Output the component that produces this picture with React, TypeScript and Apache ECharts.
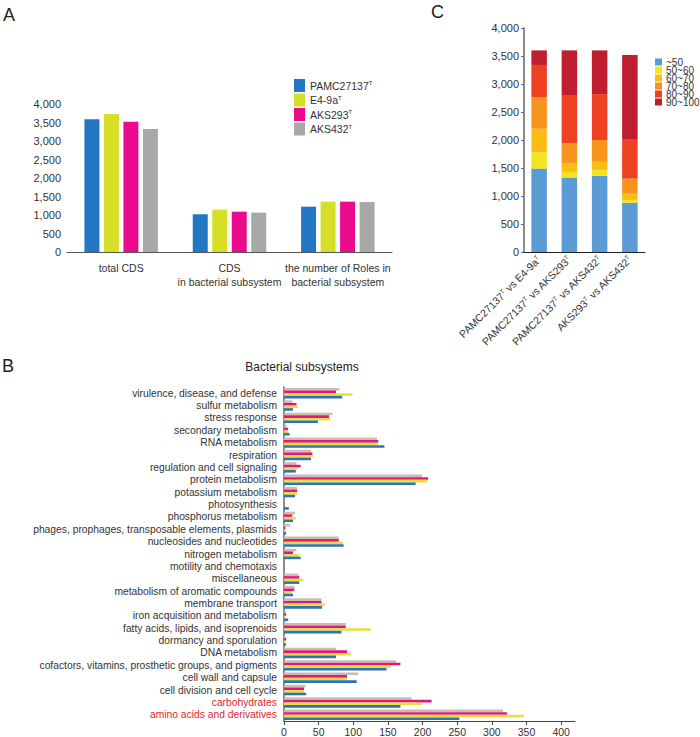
import React, { useEffect, useRef } from "react";
import * as echarts from "echarts";

// ---------- Panel A ----------
const strainsA = ["PAMC27137", "E4-9a", "AKS293", "AKS432"];
const groupsA = ["total CDS", "CDS\nin bacterial subsystem", "the number of Roles in\nbacterial subsystem"];
const pamcA = [3590, 1020, 1225];
const e4A = [3730, 1145, 1360];
const aks293A = [3520, 1090, 1360];
const aks432A = [3325, 1065, 1350];
const colorsA = ["#2377c2", "#d6df25", "#ea0a8c", "#a8a8a8"];

// ---------- Panel B ----------
const subsystemsB = [
  "virulence, disease, and defense",
  "sulfur metabolism",
  "stress response",
  "secondary metabolism",
  "RNA metabolism",
  "respiration",
  "regulation and cell signaling",
  "protein metabolism",
  "potassium metabolism",
  "photosynthesis",
  "phosphorus metabolism",
  "phages, prophages, transposable elements, plasmids",
  "nucleosides and nucleotides",
  "nitrogen metabolism",
  "motility and chemotaxis",
  "miscellaneous",
  "metabolism of aromatic compounds",
  "membrane transport",
  "iron acquisition and metabolism",
  "fatty acids, lipids, and isoprenoids",
  "dormancy and sporulation",
  "DNA metabolism",
  "cofactors, vitamins, prosthetic groups, and pigments",
  "cell wall and capsule",
  "cell division and cell cycle",
  "carbohydrates",
  "amino acids and derivatives",
];
const highlightedB = ["carbohydrates", "amino acids and derivatives"];
const pamcB = [84, 13, 49, 8, 145, 39, 17, 190, 16, 7, 13, 3, 86, 24, 0, 22, 13, 55, 6, 83, 3, 75, 148, 105, 32, 168, 253];
const e4B = [99, 20, 67, 6, 136, 42, 19, 207, 19, 0, 17, 2, 85, 22, 0, 28, 11, 59, 2, 125, 2, 97, 154, 91, 29, 199, 346];
const aks293B = [75, 18, 65, 6, 136, 41, 24, 208, 19, 0, 12, 2, 79, 13, 0, 22, 15, 54, 3, 89, 3, 91, 168, 91, 29, 213, 322];
const aks432B = [80, 12, 70, 4, 134, 39, 18, 199, 19, 0, 16, 9, 79, 18, 0, 21, 15, 54, 3, 89, 2, 75, 162, 107, 31, 184, 316];
const colorsB = ["#2e73b4", "#e4e13a", "#e5147f", "#cbbcb0"];
const ticksB = [0, 50, 100, 150, 200, 250, 300, 350, 400];

// ---------- Panel C ----------
const comparisonsC = ["PAMC27137 vs E4-9a", "PAMC27137 vs AKS293", "PAMC27137 vs AKS432", "AKS293 vs AKS432"];
const binsC = ["~50", "50~60", "60~70", "70~80", "80~90", "90~100"];
const below50C = [1490, 1330, 1360, 880];
const b50to60C = [290, 100, 100, 50];
const b60to70C = [420, 160, 150, 110];
const b70to80C = [560, 355, 390, 270];
const b80to90C = [580, 845, 820, 710];
const b90to100C = [260, 810, 780, 1500];
const colorsC = ["#5b9bd5", "#f3e51c", "#fbbd15", "#f7941d", "#ee4123", "#be1e2d"];

const FONT = "Liberation Sans, Arial, Helvetica, sans-serif";
const TXT = "#333";
const makeSupRich = (size: number) => ({
  n: { fontSize: size, fontFamily: FONT, color: TXT },
  s: { fontSize: 6, fontFamily: FONT, color: TXT, verticalAlign: "top" as const, padding: [0, 0, 4, 0] },
});
const fmtThousands = (v: number) => v.toLocaleString("en-US");

export default function App() {
  const ref = useRef<HTMLDivElement>(null);
  useEffect(() => {
    document.body.style.margin = "0";
    if (!ref.current) return;
    const chart = echarts.init(ref.current, null, { renderer: "svg" });

    const seriesA = [pamcA, e4A, aks293A, aks432A].map((d, i) => ({
      name: strainsA[i],
      type: "bar",
      xAxisIndex: 0,
      yAxisIndex: 0,
      data: d,
      barWidth: 15,
      barGap: "30%",
      itemStyle: { color: colorsA[i] },
    }));

    const dataB = [aks432B, aks293B, e4B, pamcB];
    const colB = [colorsB[3], colorsB[2], colorsB[1], colorsB[0]];
    const namesB = ["B-" + strainsA[3], "B-" + strainsA[2], "B-" + strainsA[1], "B-" + strainsA[0]];
    const seriesB = dataB.map((d, i) => ({
      name: namesB[i],
      type: "bar",
      xAxisIndex: 1,
      yAxisIndex: 1,
      data: d,
      barGap: "0%",
      barCategoryGap: "16%",
      itemStyle: { color: colB[i] },
    }));

    const seriesC = [below50C, b50to60C, b60to70C, b70to80C, b80to90C, b90to100C].map((d, i) => ({
      name: binsC[i],
      type: "bar",
      stack: "c",
      xAxisIndex: 2,
      yAxisIndex: 2,
      data: d,
      barWidth: 15.5,
      itemStyle: { color: colorsC[i] },
    }));

    chart.setOption({
      animation: false,
      textStyle: { fontFamily: FONT },
      grid: [
        { left: 67, top: 104, width: 325, height: 148 },
        { left: 284, top: 387, width: 291, height: 336 },
        { left: 524, top: 28, width: 121, height: 224 },
      ],
      legend: [
        {
          data: strainsA,
          orient: "vertical",
          left: 294,
          top: 79,
          padding: 0,
          itemWidth: 11,
          itemHeight: 13,
          itemGap: 1.5,
          icon: "rect",
          formatter: (name: string) => `{n|${name}}{s|T}`,
          textStyle: { fontSize: 10.5, color: TXT, fontFamily: FONT, rich: makeSupRich(10.5) },
        },
        {
          data: binsC,
          orient: "vertical",
          left: 655,
          top: 57,
          padding: 0,
          itemWidth: 7,
          itemHeight: 7,
          itemGap: -2,
          itemStyle: { borderWidth: 0 },
          icon: "rect",
          textStyle: { fontSize: 10, color: TXT, fontFamily: FONT, padding: [0, 0, 0, -1] },
        },
      ],
      xAxis: [
        {
          type: "category",
          gridIndex: 0,
          data: groupsA,
          axisLine: { lineStyle: { color: "#555", width: 1.2 } },
          axisTick: { show: false },
          axisLabel: { fontSize: 10.5, color: TXT, lineHeight: 14, margin: 9, interval: 0, fontFamily: FONT },
        },
        {
          type: "value",
          gridIndex: 1,
          min: 0,
          max: 420,
          interval: 50,
          axisLine: { show: true, lineStyle: { color: "#444", width: 1 } },
          axisTick: { show: true, length: 4, customValues: ticksB, lineStyle: { color: "#444" } },
          axisLabel: { fontSize: 10.5, color: TXT, margin: 5, customValues: ticksB, fontFamily: FONT },
          splitLine: { show: false },
        },
        {
          type: "category",
          gridIndex: 2,
          data: comparisonsC,
          axisLine: { lineStyle: { color: "#222", width: 1 } },
          axisTick: { show: false },
          axisLabel: {
            rotate: 45,
            interval: 0,
            margin: 6,
            fontSize: 10.5,
            color: TXT,
            formatter: (v: string) => {
              const [a, b] = v.split(" vs ");
              return `{n|${a}}{s|T}{n| vs ${b}}{s|T}`;
            },
            rich: makeSupRich(10.5),
          },
        },
      ],
      yAxis: [
        {
          type: "value",
          gridIndex: 0,
          min: 0,
          max: 4000,
          interval: 500,
          axisLine: { show: false },
          axisTick: { show: false },
          splitLine: { show: false },
          axisLabel: { fontSize: 11, color: TXT, margin: 6, formatter: fmtThousands, fontFamily: FONT },
        },
        {
          type: "category",
          gridIndex: 1,
          inverse: true,
          data: subsystemsB.map((s) =>
            highlightedB.includes(s) ? { value: s, textStyle: { color: "#e4262d" } } : s
          ),
          axisLine: { show: true, lineStyle: { color: "#666", width: 1.5 } },
          axisTick: { show: false },
          axisLabel: { fontSize: 10.3, color: TXT, margin: 7, interval: 0, fontFamily: FONT },
        },
        {
          type: "value",
          gridIndex: 2,
          min: 0,
          max: 4000,
          interval: 500,
          axisLine: { show: true, lineStyle: { color: "#666", width: 1.5 } },
          axisTick: { show: true, length: 3, lineStyle: { color: "#666" } },
          splitLine: { show: false },
          axisLabel: { fontSize: 11, color: TXT, margin: 5, formatter: fmtThousands, fontFamily: FONT },
        },
      ],
      graphic: [
        { type: "text", left: 3, top: 6, style: { text: "A", fontSize: 18, fill: "#222", fontFamily: FONT } },
        { type: "text", left: 2, top: 357, style: { text: "B", fontSize: 18, fill: "#222", fontFamily: FONT } },
        { type: "text", left: 431, top: 3, style: { text: "C", fontSize: 18, fill: "#222", fontFamily: FONT } },
        {
          type: "text",
          x: 302,
          y: 361,
          style: { text: "Bacterial subsystems", fontSize: 12, fill: "#222", fontFamily: FONT, align: "center" },
        },
      ],
      series: [...seriesA, ...seriesB, ...seriesC],
    });
    return () => chart.dispose();
  }, []);
  return <div ref={ref} style={{ width: 700, height: 737 }} />;
}
